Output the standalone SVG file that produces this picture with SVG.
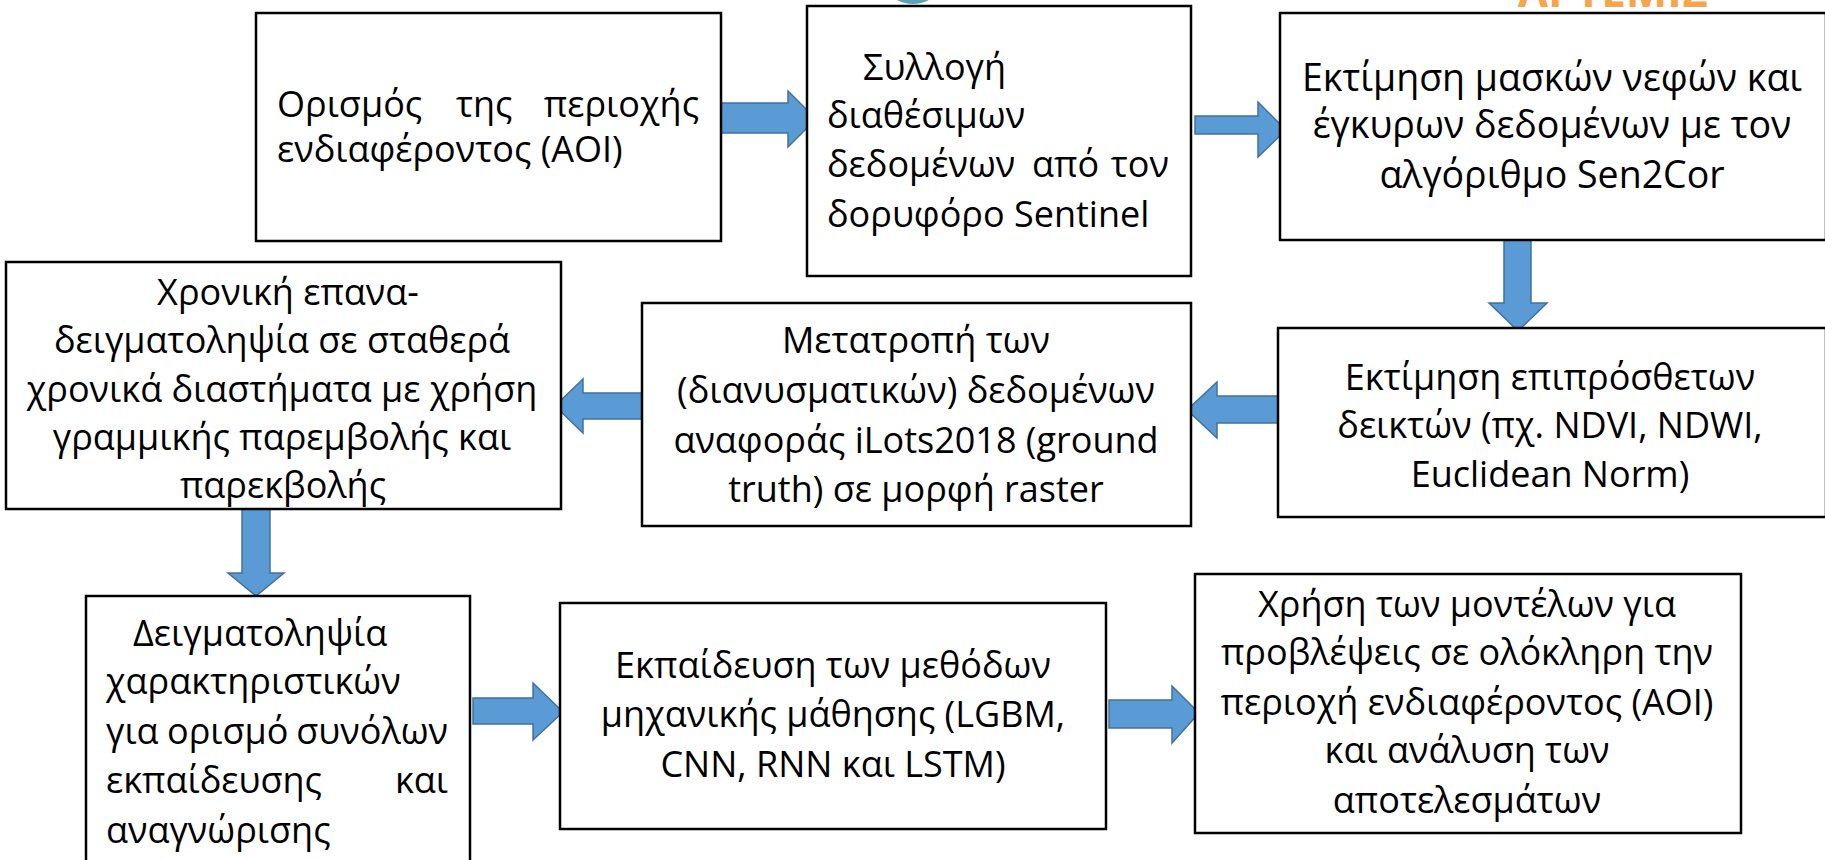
<svg xmlns="http://www.w3.org/2000/svg" width="1825" height="860" viewBox="0 0 1825 860">
<style>
.box{fill:#fff;stroke:#000;stroke-width:2.5}
.t{font-family:"Open Sans","Noto Sans","DejaVu Sans",sans-serif;font-size:36px;fill:#000}
.big{font-size:37.5px}
.c{text-anchor:middle}
.e{text-anchor:end}
.arr{fill:#5b9bd5;stroke:#41719c;stroke-width:1.5;stroke-linejoin:miter}
</style>
<rect width="1825" height="860" fill="#fff"/>
<g id="logo">
<ellipse cx="913" cy="-8" rx="21" ry="12" fill="#5aa3b5"/>
<text x="1708" y="7" font-family="'Open Sans','DejaVu Sans',sans-serif" font-weight="bold" font-size="44" fill="#f6a54a" text-anchor="end">ΑΡΤΕΜΙΣ</text>
</g>
<g id="connectors">
<path class="arr" d="M675,103 H788 V91 L816,119 L788,147 V133 H675 Z"/>
<path class="arr" d="M1195,116 H1258 V102 L1286,130 L1258,157 V134 H1195 Z"/>
<path class="arr" d="M1504,240 V303 H1489 L1518,331 L1547,303 H1531 V240 Z"/>
<path class="arr" d="M1278,396 H1217 V382 L1187,410 L1217,438 V423 H1278 Z"/>
<path class="arr" d="M647,393 H583 V379 L555,406 L583,433 V419 H647 Z"/>
<path class="arr" d="M242,509 V573 H228 L256,596 L284,573 H270 V509 Z"/>
<path class="arr" d="M473,698 H533 V683 L563,712 L533,740 V724 H473 Z"/>
<path class="arr" d="M1109,700 H1172 V686 L1199,713 L1172,743 V728 H1109 Z"/>
</g>
<g id="n1">
<rect class="box" x="256" y="13" width="465" height="228"/>
<text class="t" x="277" y="117">Ορισμός</text>
<text class="t" x="456" y="117">της</text>
<text class="t e" x="699" y="117">περιοχής</text>
<text class="t" x="277" y="162">ενδιαφέροντος (AOI)</text>
</g>
<g id="n2">
<rect class="box" x="807" y="6" width="384" height="270"/>
<text class="t" x="863" y="80">Συλλογή</text>
<text class="t" x="827" y="128">διαθέσιμων</text>
<text class="t" x="827" y="177">δεδομένων</text>
<text class="t" x="1032" y="177">από</text>
<text class="t e" x="1169" y="177">τον</text>
<text class="t" x="827" y="227">δορυφόρο Sentinel</text>
</g>
<g id="n3">
<rect class="box" x="1280" y="13" width="546" height="227"/>
<text class="t big c" x="1552" y="91">Εκτίμηση μασκών νεφών και</text>
<text class="t big c" x="1552" y="138">έγκυρων δεδομένων  με τον</text>
<text class="t big c" x="1552" y="188">αλγόριθμο Sen2Cor</text>
</g>
<g id="n4">
<rect class="box" x="1278" y="328" width="548" height="189"/>
<text class="t c" x="1550" y="390">Εκτίμηση επιπρόσθετων</text>
<text class="t c" x="1550" y="438">δεικτών (πχ. NDVI, NDWI,</text>
<text class="t c" x="1550" y="487">Euclidean Norm)</text>
</g>
<g id="n5">
<rect class="box" x="642" y="303" width="549" height="223"/>
<text class="t c" x="916" y="353">Μετατροπή των</text>
<text class="t c" x="916" y="403">(διανυσματικών) δεδομένων</text>
<text class="t c" x="916" y="453">αναφοράς iLots2018 (ground</text>
<text class="t c" x="916" y="502">truth) σε μορφή raster</text>
</g>
<g id="n6">
<rect class="box" x="6" y="262" width="555" height="247"/>
<text class="t c" x="288" y="305">Χρονική επανα-</text>
<text class="t c" x="282" y="353">δειγματοληψία σε σταθερά</text>
<text class="t c" x="282" y="402">χρονικά διαστήματα με χρήση</text>
<text class="t c" x="282" y="450">γραμμικής παρεμβολής και</text>
<text class="t c" x="283" y="498">παρεκβολής</text>
</g>
<g id="n7">
<rect class="box" x="86" y="596" width="384" height="300"/>
<text class="t" x="133" y="646">Δειγματοληψία</text>
<text class="t" x="106" y="694">χαρακτηριστικών</text>
<text class="t" x="106" y="744">για</text>
<text class="t" x="167" y="744">ορισμό</text>
<text class="t e" x="448" y="744">συνόλων</text>
<text class="t" x="106" y="793">εκπαίδευσης</text>
<text class="t e" x="448" y="793">και</text>
<text class="t" x="106" y="843">αναγνώρισης</text>
</g>
<g id="n8">
<rect class="box" x="560" y="603" width="546" height="226"/>
<text class="t c" x="833" y="678">Εκπαίδευση των μεθόδων</text>
<text class="t c" x="833" y="727">μηχανικής μάθησης (LGBM,</text>
<text class="t c" x="833" y="777">CNN, RNN και LSTM)</text>
</g>
<g id="n9">
<rect class="box" x="1195" y="574" width="546" height="259"/>
<text class="t c" x="1467" y="617">Χρήση των μοντέλων για</text>
<text class="t c" x="1467" y="665">προβλέψεις σε ολόκληρη την</text>
<text class="t c" x="1467" y="715">περιοχή ενδιαφέροντος (AOI)</text>
<text class="t c" x="1467" y="763">και ανάλυση των</text>
<text class="t c" x="1467" y="813">αποτελεσμάτων</text>
</g>
</svg>
